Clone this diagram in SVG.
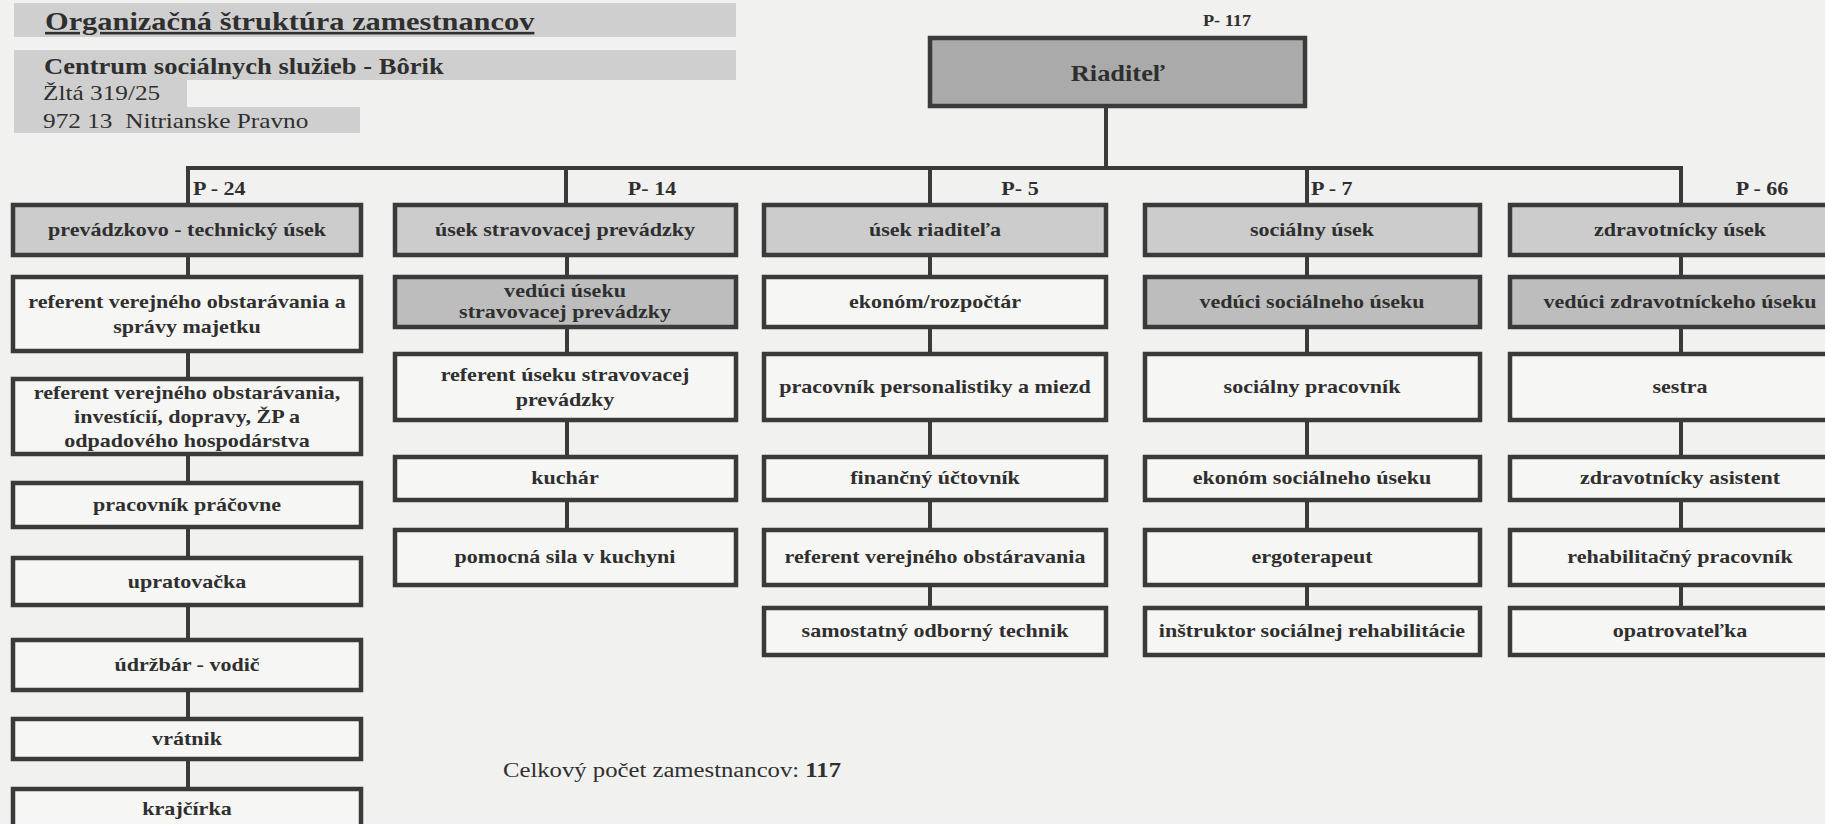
<svg xmlns="http://www.w3.org/2000/svg" width="1825" height="824" viewBox="0 0 1825 824">
<style>
.bg{fill:#f1f1ef}
.band{fill:#cfcfcf}
.box{stroke:#3a3a3a;stroke-width:4.5}
.w{fill:#f6f6f4}
.h{fill:#cccccc}
.v{fill:#bdbdbd}
.r{fill:#aaaaaa}
.t{font-family:"Liberation Serif","Times New Roman",serif;font-weight:bold;font-size:19px;text-anchor:middle;fill:#2f2f2f}
.p{font-family:"Liberation Serif","Times New Roman",serif;font-weight:bold;font-size:19px;fill:#2f2f2f}
.reg{font-family:"Liberation Serif","Times New Roman",serif;font-size:21.8px;fill:#2f2f2f}
.con{stroke:#3a3a3a;stroke-width:4;fill:none;stroke-linecap:square}
</style>
<rect class="bg" x="0" y="0" width="1825" height="824"/>

<g id="header">
  <rect class="band" x="14" y="3" width="722" height="34"/>
  <rect class="band" x="14" y="50" width="722" height="30"/>
  <rect class="band" x="14" y="80" width="173" height="27"/>
  <rect class="band" x="14" y="107" width="346" height="26"/>
  <text transform="translate(45,30) scale(1.16,1)" style="font-family:'Liberation Serif','Times New Roman',serif;font-weight:bold;font-size:26.2px;fill:#2f2f2f;text-decoration:underline">Organizačná štruktúra zamestnancov</text>
  <text transform="translate(44,74) scale(1.16,1)" style="font-family:'Liberation Serif','Times New Roman',serif;font-weight:bold;font-size:22.9px;fill:#2f2f2f">Centrum sociálnych služieb - Bôrik</text>
  <text class="reg" transform="translate(43,100) scale(1.16,1)">Žltá 319/25</text>
  <text class="reg" transform="translate(43,128) scale(1.16,1)" xml:space="preserve">972 13  Nitrianske Pravno</text>
</g>

<g id="connectors">
  <path class="con" d="M1106 108V168M188 168H1681M188 168V203M566 168V203M930 168V203M1307 168V203M1681 168V203"/>
  <path class="con" d="M188 257V275M188 353V377M188 456V481M188 529V556M188 607V638M188 692V717M188 761V787"/>
  <path class="con" d="M567 257V275M567 329V352M567 422V455M567 502V528"/>
  <path class="con" d="M930 257V275M930 329V352M930 422V455M930 502V528M930 587V606"/>
  <path class="con" d="M1307 257V275M1307 329V352M1307 422V455M1307 502V528M1307 587V606"/>
  <path class="con" d="M1681 257V275M1681 329V352M1681 422V455M1681 502V528M1681 587V606"/>
</g>

<g id="riaditel">
  <rect class="box r" x="930" y="38" width="375" height="68"/>
  <text class="t" style="font-size:24px" transform="translate(1118,81) scale(1.1,1)">Riaditeľ</text>
  <text class="t" style="font-size:15.7px" transform="translate(1227,26) scale(1.16,1)">P- 117</text>
</g>

<!-- Column 1 -->
<g id="c1-head">
  <rect class="box h" x="13" y="205" width="348" height="50"/>
  <text class="t" transform="translate(187,236) scale(1.16,1)">prevádzkovo - technický úsek</text>
  <text class="p" transform="translate(193,195) scale(1.16,1)">P - 24</text>
</g>
<g id="c1-n1">
  <rect class="box w" x="13" y="277" width="348" height="74"/>
  <text class="t" transform="translate(187,308) scale(1.16,1)"><tspan x="0">referent verejného obstarávania a</tspan><tspan x="0" dy="25">správy majetku</tspan></text>
</g>
<g id="c1-n2">
  <rect class="box w" x="13" y="379" width="348" height="75"/>
  <text class="t" transform="translate(187,399) scale(1.16,1)"><tspan x="0">referent verejného obstarávania,</tspan><tspan x="0" dy="24">investícií, dopravy, ŽP a</tspan><tspan x="0" dy="24">odpadového hospodárstva</tspan></text>
</g>
<g id="c1-n3">
  <rect class="box w" x="13" y="483" width="348" height="44"/>
  <text class="t" transform="translate(187,511) scale(1.16,1)">pracovník práčovne</text>
</g>
<g id="c1-n4">
  <rect class="box w" x="13" y="558" width="348" height="47"/>
  <text class="t" transform="translate(187,588) scale(1.16,1)">upratovačka</text>
</g>
<g id="c1-n5">
  <rect class="box w" x="13" y="640" width="348" height="50"/>
  <text class="t" transform="translate(187,671) scale(1.16,1)">údržbár - vodič</text>
</g>
<g id="c1-n6">
  <rect class="box w" x="13" y="719" width="348" height="40"/>
  <text class="t" transform="translate(187,745) scale(1.16,1)">vrátnik</text>
</g>
<g id="c1-n7">
  <rect class="box w" x="13" y="789" width="348" height="60"/>
  <text class="t" transform="translate(187,815) scale(1.16,1)">krajčírka</text>
</g>

<!-- Column 2 -->
<g id="c2-head">
  <rect class="box h" x="395" y="205" width="341" height="50"/>
  <text class="t" transform="translate(565,236) scale(1.16,1)">úsek stravovacej prevádzky</text>
  <text class="t" transform="translate(652,195) scale(1.16,1)">P- 14</text>
</g>
<g id="c2-n1">
  <rect class="box v" x="395" y="277" width="341" height="50"/>
  <text class="t" transform="translate(565,297) scale(1.16,1)"><tspan x="0">vedúci úseku</tspan><tspan x="0" dy="21">stravovacej prevádzky</tspan></text>
</g>
<g id="c2-n2">
  <rect class="box w" x="395" y="354" width="341" height="66"/>
  <text class="t" transform="translate(565,381) scale(1.16,1)"><tspan x="0">referent úseku stravovacej</tspan><tspan x="0" dy="25">prevádzky</tspan></text>
</g>
<g id="c2-n3">
  <rect class="box w" x="395" y="457" width="341" height="43"/>
  <text class="t" transform="translate(565,484) scale(1.16,1)">kuchár</text>
</g>
<g id="c2-n4">
  <rect class="box w" x="395" y="530" width="341" height="55"/>
  <text class="t" transform="translate(565,563) scale(1.16,1)">pomocná sila v kuchyni</text>
</g>

<!-- Column 3 -->
<g id="c3-head">
  <rect class="box h" x="764" y="205" width="342" height="50"/>
  <text class="t" transform="translate(935,236) scale(1.16,1)">úsek riaditeľa</text>
  <text class="t" transform="translate(1020,195) scale(1.16,1)">P- 5</text>
</g>
<g id="c3-n1">
  <rect class="box w" x="764" y="277" width="342" height="50"/>
  <text class="t" transform="translate(935,308) scale(1.16,1)">ekonóm/rozpočtár</text>
</g>
<g id="c3-n2">
  <rect class="box w" x="764" y="354" width="342" height="66"/>
  <text class="t" transform="translate(935,393) scale(1.16,1)">pracovník personalistiky a miezd</text>
</g>
<g id="c3-n3">
  <rect class="box w" x="764" y="457" width="342" height="43"/>
  <text class="t" transform="translate(935,484) scale(1.16,1)">finančný účtovník</text>
</g>
<g id="c3-n4">
  <rect class="box w" x="764" y="530" width="342" height="55"/>
  <text class="t" transform="translate(935,563) scale(1.16,1)">referent verejného obstáravania</text>
</g>
<g id="c3-n5">
  <rect class="box w" x="764" y="608" width="342" height="47"/>
  <text class="t" transform="translate(935,637) scale(1.16,1)">samostatný odborný technik</text>
</g>

<!-- Column 4 -->
<g id="c4-head">
  <rect class="box h" x="1145" y="205" width="335" height="50"/>
  <text class="t" transform="translate(1312,236) scale(1.16,1)">sociálny úsek</text>
  <text class="p" transform="translate(1311,195) scale(1.16,1)">P - 7</text>
</g>
<g id="c4-n1">
  <rect class="box v" x="1145" y="277" width="335" height="50"/>
  <text class="t" transform="translate(1312,308) scale(1.16,1)">vedúci sociálneho úseku</text>
</g>
<g id="c4-n2">
  <rect class="box w" x="1145" y="354" width="335" height="66"/>
  <text class="t" transform="translate(1312,393) scale(1.16,1)">sociálny pracovník</text>
</g>
<g id="c4-n3">
  <rect class="box w" x="1145" y="457" width="335" height="43"/>
  <text class="t" transform="translate(1312,484) scale(1.16,1)">ekonóm sociálneho úseku</text>
</g>
<g id="c4-n4">
  <rect class="box w" x="1145" y="530" width="335" height="55"/>
  <text class="t" transform="translate(1312,563) scale(1.16,1)">ergoterapeut</text>
</g>
<g id="c4-n5">
  <rect class="box w" x="1145" y="608" width="335" height="47"/>
  <text class="t" transform="translate(1312,637) scale(1.16,1)">inštruktor sociálnej rehabilitácie</text>
</g>

<!-- Column 5 -->
<g id="c5-head">
  <rect class="box h" x="1510" y="205" width="345" height="50"/>
  <text class="t" transform="translate(1680,236) scale(1.16,1)">zdravotnícky úsek</text>
  <text class="t" transform="translate(1762,195) scale(1.16,1)">P - 66</text>
</g>
<g id="c5-n1">
  <rect class="box v" x="1510" y="277" width="345" height="50"/>
  <text class="t" transform="translate(1680,308) scale(1.16,1)">vedúci zdravotníckeho úseku</text>
</g>
<g id="c5-n2">
  <rect class="box w" x="1510" y="354" width="345" height="66"/>
  <text class="t" transform="translate(1680,393) scale(1.16,1)">sestra</text>
</g>
<g id="c5-n3">
  <rect class="box w" x="1510" y="457" width="345" height="43"/>
  <text class="t" transform="translate(1680,484) scale(1.16,1)">zdravotnícky asistent</text>
</g>
<g id="c5-n4">
  <rect class="box w" x="1510" y="530" width="345" height="55"/>
  <text class="t" transform="translate(1680,563) scale(1.16,1)">rehabilitačný pracovník</text>
</g>
<g id="c5-n5">
  <rect class="box w" x="1510" y="608" width="345" height="47"/>
  <text class="t" transform="translate(1680,637) scale(1.16,1)">opatrovateľka</text>
</g>

<g id="total">
  <text class="reg" style="font-size:21.3px" transform="translate(503,777) scale(1.16,1)">Celkový počet zamestnancov: <tspan font-weight="bold">117</tspan></text>
</g>
</svg>
